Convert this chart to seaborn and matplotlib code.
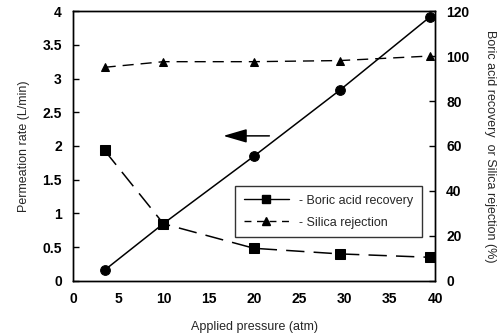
import matplotlib
matplotlib.use("Agg")
import matplotlib.pyplot as plt
import seaborn as sns
import pandas as pd
from matplotlib.lines import Line2D

sns.set_theme(style="white")
plt.rcParams['font.family'] = ['Liberation Sans', 'DejaVu Sans']

pressure = [3.5, 10, 20, 29.5, 39.4]
permeation = [0.16, 0.85, 1.85, 2.83, 3.91]
boric_recovery = [58, 25.4, 14.5, 12, 10.5]
silica_rejection = [95, 97.5, 97.5, 98, 100]

df = pd.DataFrame({"pressure": pressure, "permeation": permeation,
                   "boric": boric_recovery, "silica": silica_rejection})

fig = plt.figure(figsize=(5.03, 3.36), dpi=100)
ax = fig.add_axes([0.145, 0.164, 0.72, 0.803])
ax2 = ax.twinx()

sns.lineplot(data=df, x="pressure", y="permeation", ax=ax, color="black",
             lw=1.1, marker="o", markersize=7, markeredgecolor="black")
sns.lineplot(data=df, x="pressure", y="boric", ax=ax2, color="black",
             lw=1.1, marker="s", markersize=7, markeredgecolor="black",
             linestyle=(0, (12, 6)))
sns.lineplot(data=df, x="pressure", y="silica", ax=ax2, color="black",
             lw=1.0, marker="^", markersize=6, markeredgecolor="black",
             linestyle=(0, (8, 5)))

ax.set_xlim(0, 40)
ax.set_ylim(0, 4)
ax2.set_ylim(0, 120)
ax.set_xticks(range(0, 45, 5))
ax.set_yticks([0, 0.5, 1, 1.5, 2, 2.5, 3, 3.5, 4])
ax.set_yticklabels(["0", "0.5", "1", "1.5", "2", "2.5", "3", "3.5", "4"])
ax2.set_yticks(range(0, 140, 20))

for a in (ax, ax2):
    for s in a.spines.values():
        s.set_color("black")
        s.set_linewidth(1.0)
ax.tick_params(axis="both", direction="in", length=4, width=1, colors="black",
               labelsize=10, pad=8)
ax2.tick_params(axis="y", direction="in", length=4, width=1, colors="black",
                labelsize=10, pad=8)
for lab in ax.get_xticklabels() + ax.get_yticklabels() + ax2.get_yticklabels():
    lab.set_fontweight("bold")

ax.set_xlabel("Applied pressure (atm)", fontsize=9, labelpad=11)
ax.set_ylabel("Permeation rate (L/min)", fontsize=9, labelpad=9)
ax2.set_ylabel("Boric acid recovery  or Silica rejection (%)", fontsize=9,
               rotation=-90, labelpad=19)

ax.annotate("", xy=(16.3, 2.15), xytext=(22, 2.15),
            arrowprops=dict(arrowstyle="-|>,head_length=1.2,head_width=0.35",
                            color="black", lw=1.1))

handles = [
    Line2D([0], [0], color="black", lw=1.0, marker="s", markersize=6),
    Line2D([0], [0], color="black", lw=1.0, marker="^", markersize=6,
           linestyle=(0, (5, 4))),
]
leg = ax2.legend(handles, ["- Boric acid recovery", "- Silica rejection"],
                 loc="upper left", bbox_to_anchor=(0.43, 0.375), frameon=True,
                 fancybox=False, edgecolor="black", fontsize=9,
                 handlelength=3.6, borderpad=0.7, labelspacing=0.8,
                 handletextpad=0.8)
leg.get_frame().set_linewidth(1.0)
if ax.get_legend() is not None:
    ax.get_legend().remove()

fig.savefig("out.png", dpi=100)
